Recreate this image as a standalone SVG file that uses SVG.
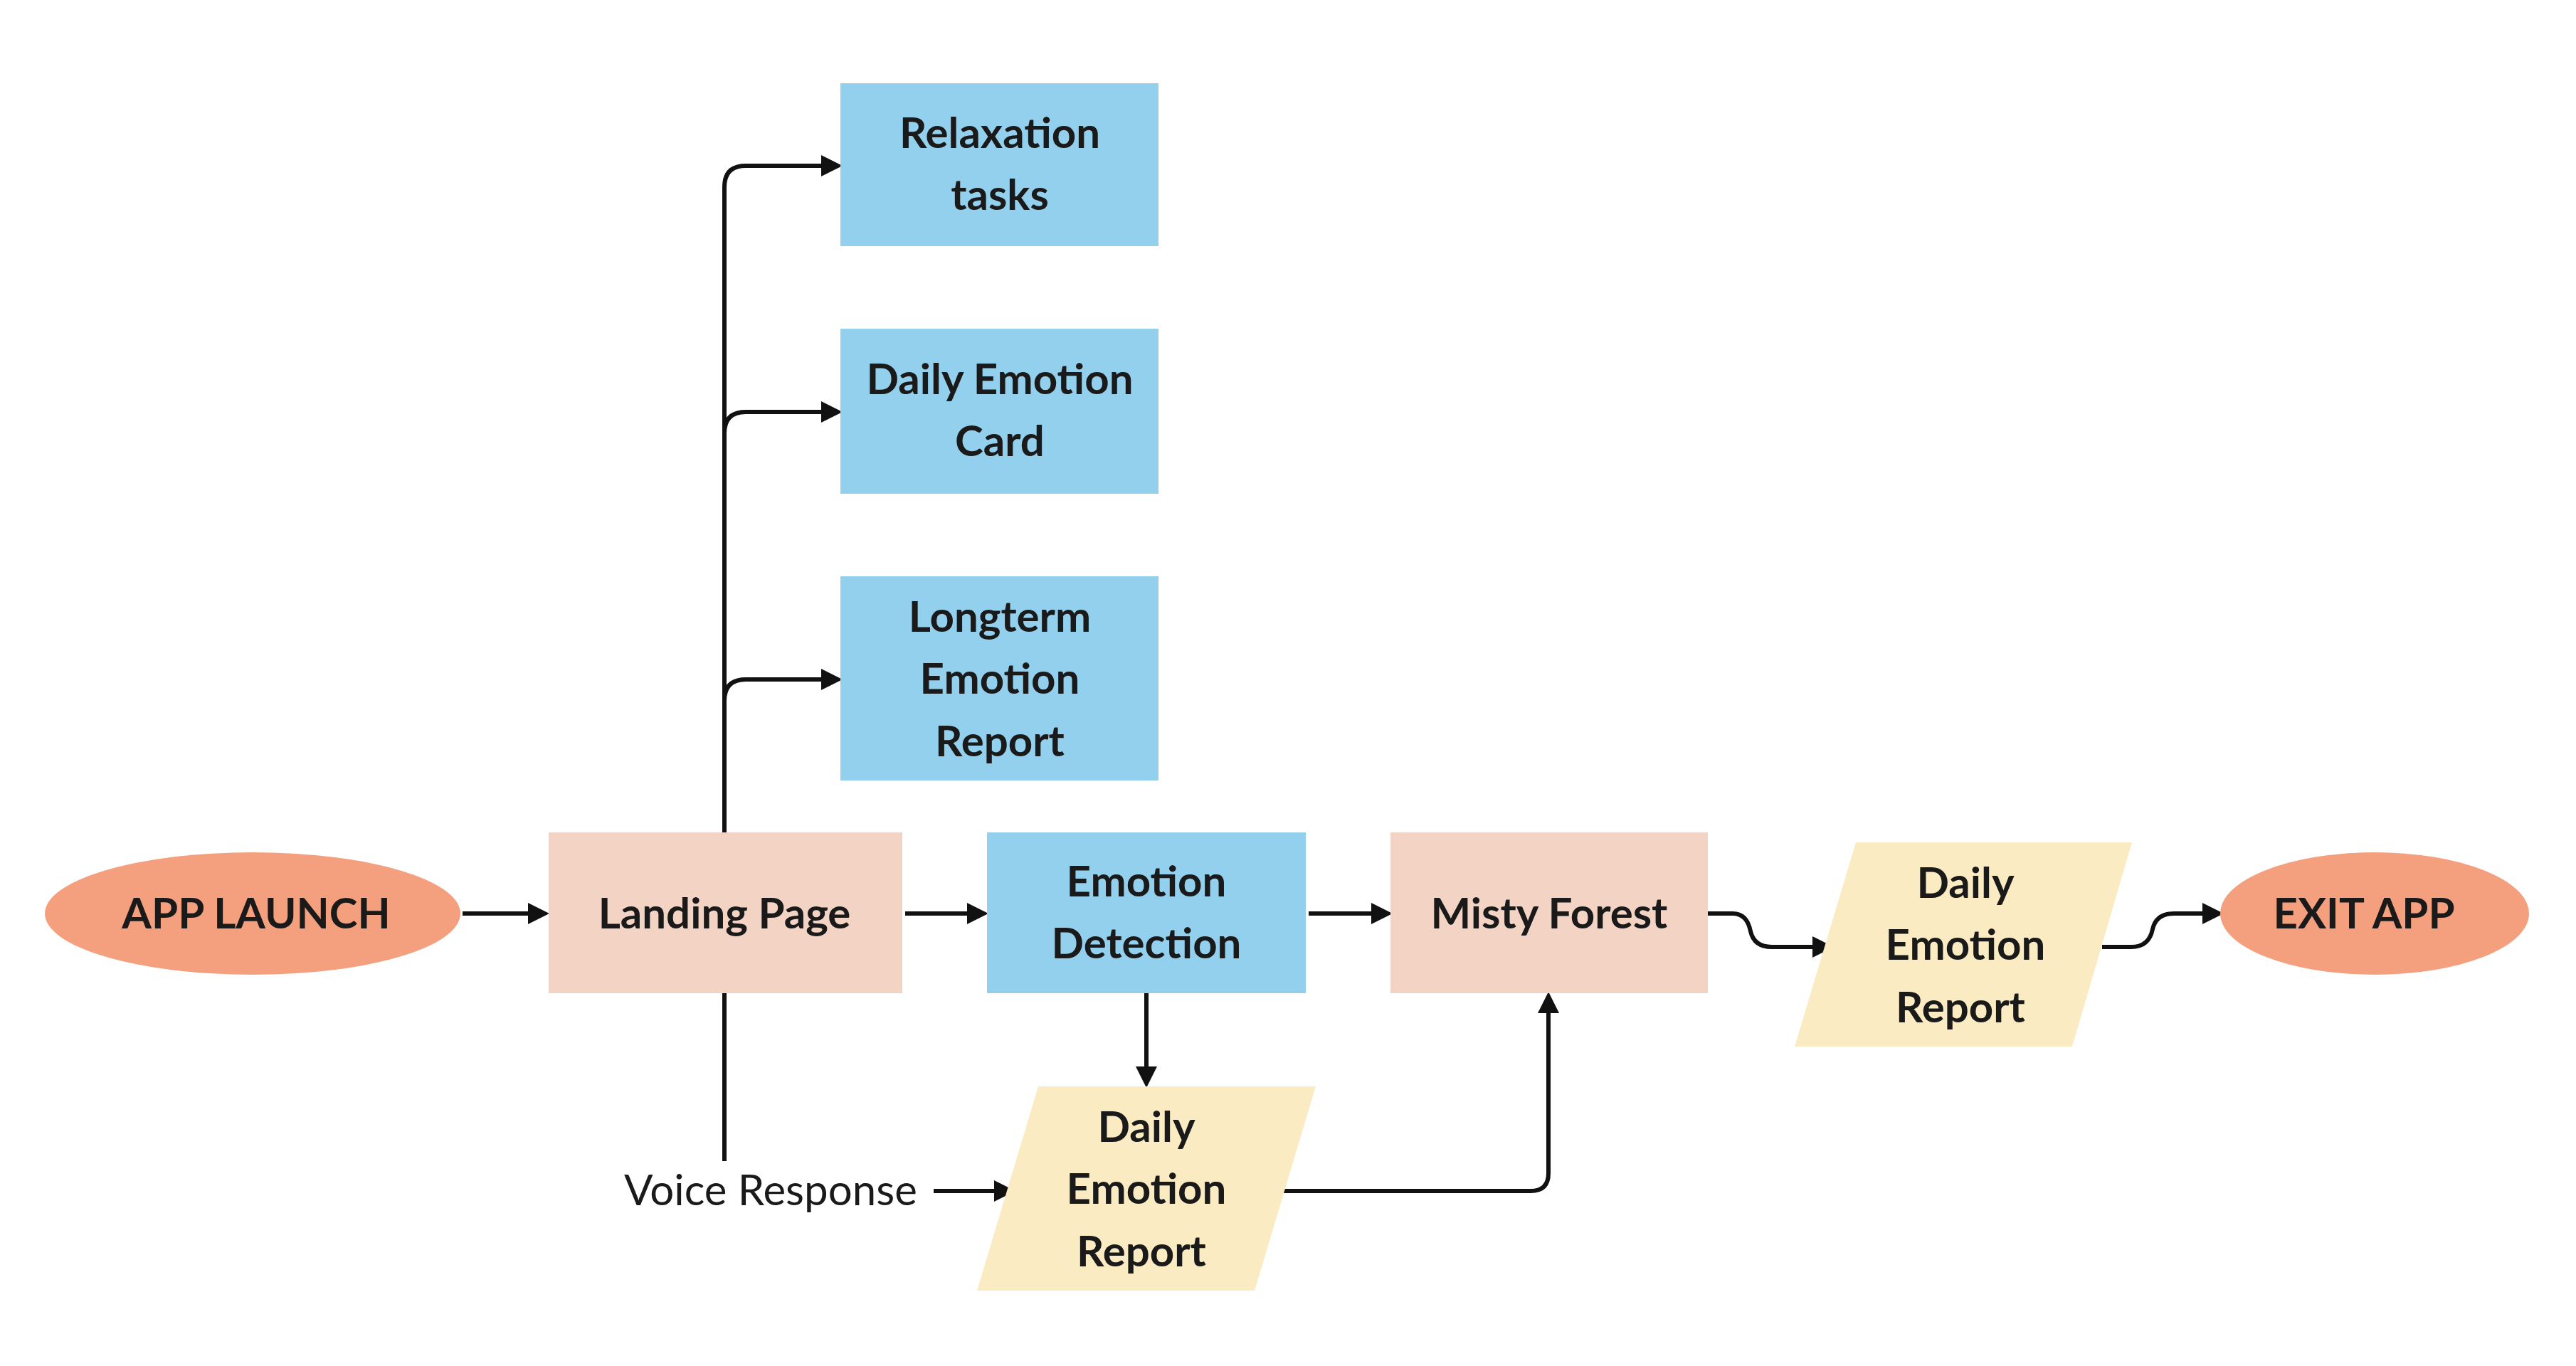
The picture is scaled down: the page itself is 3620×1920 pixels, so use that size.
<svg xmlns="http://www.w3.org/2000/svg" width="3620" height="1920" viewBox="0 0 3620 1920">
<style>
.t{font-family:"Lato","Liberation Sans",sans-serif;font-weight:bold;font-size:60px;fill:#1a1a1a;text-anchor:middle}
.v{font-family:"Lato","Liberation Sans",sans-serif;font-size:60px;fill:#1a1a1a;text-anchor:middle}
.e{fill:#F4A07E}.p{fill:#F2D3C4}.b{fill:#92D0EE}.y{fill:#FBEBC2}
.c{fill:none;stroke:#111;stroke-width:6}
</style>
<defs><marker id="a" markerWidth="5" markerHeight="5" refX="4" refY="2.5" orient="auto" markerUnits="strokeWidth"><path d="M0,0L5,2.5L0,5z" fill="#111"/></marker></defs>
<rect width="3620" height="1920" fill="#fff"/>
<g id="connectors">
<path class="c" d="M1018,1170V263q0,-30 30,-30H1178" marker-end="url(#a)"/>
<path class="c" d="M1018,609q0,-30 30,-30H1178" marker-end="url(#a)"/>
<path class="c" d="M1018,985q0,-30 30,-30H1178" marker-end="url(#a)"/>
<path class="c" d="M650,1284H766" marker-end="url(#a)"/>
<path class="c" d="M1272,1284H1383" marker-end="url(#a)"/>
<path class="c" d="M1839,1284H1951" marker-end="url(#a)"/>
<path class="c" d="M1018,1396V1632"/>
<path class="c" d="M1312,1674H1421" marker-end="url(#a)"/>
<path class="c" d="M1611,1396V1523" marker-end="url(#a)"/>
<path class="c" d="M1803,1674H2151q25,0 25,-25V1400" marker-end="url(#a)"/>
<path class="c" d="M2400,1284H2435q20,0 25,25q5,22 30,22H2571" marker-end="url(#a)"/>
<path class="c" d="M2954,1331H2995q25,0 30,-25q5,-22 30,-22H3119" marker-end="url(#a)"/>
</g>
<g id="app-launch"><ellipse class="e" cx="355" cy="1284" rx="292" ry="86"/><text class="t" x="360" y="1305">APP LAUNCH</text></g>
<g id="landing"><rect class="p" x="771" y="1170" width="497" height="226"/><text class="t" x="1018" y="1305">Landing Page</text></g>
<g id="emotion-detection"><rect class="b" x="1387" y="1170" width="448" height="226"/><text class="t" x="1611" y="1260">Emotion</text><text class="t" x="1611" y="1347">Detection</text></g>
<g id="misty"><rect class="p" x="1954" y="1170" width="446" height="226"/><text class="t" x="2177" y="1305">Misty Forest</text></g>
<g id="relax"><rect class="b" x="1181" y="117" width="447" height="229"/><text class="t" x="1405" y="208">Relaxation</text><text class="t" x="1405" y="295">tasks</text></g>
<g id="card"><rect class="b" x="1181" y="462" width="447" height="232"/><text class="t" x="1405" y="554">Daily Emotion</text><text class="t" x="1405" y="641">Card</text></g>
<g id="longterm"><rect class="b" x="1181" y="810" width="447" height="287"/><text class="t" x="1405" y="888">Longterm</text><text class="t" x="1405" y="975">Emotion</text><text class="t" x="1405" y="1063">Report</text></g>
<g id="report-bottom"><polygon class="y" points="1459,1527 1849,1527 1763,1814 1373,1814"/><text class="t" x="1611" y="1605">Daily</text><text class="t" x="1611" y="1692">Emotion</text><text class="t" x="1604" y="1780">Report</text></g>
<g id="report-right"><polygon class="y" points="2608,1184 2996,1184 2912,1471 2522,1471"/><text class="t" x="2762" y="1262">Daily</text><text class="t" x="2762" y="1349">Emotion</text><text class="t" x="2755" y="1437">Report</text></g>
<g id="exit"><ellipse class="e" cx="3337" cy="1284" rx="217" ry="86"/><text class="t" x="3322" y="1305">EXIT APP</text></g>
<text class="v" x="1083" y="1694">Voice Response</text>
</svg>
